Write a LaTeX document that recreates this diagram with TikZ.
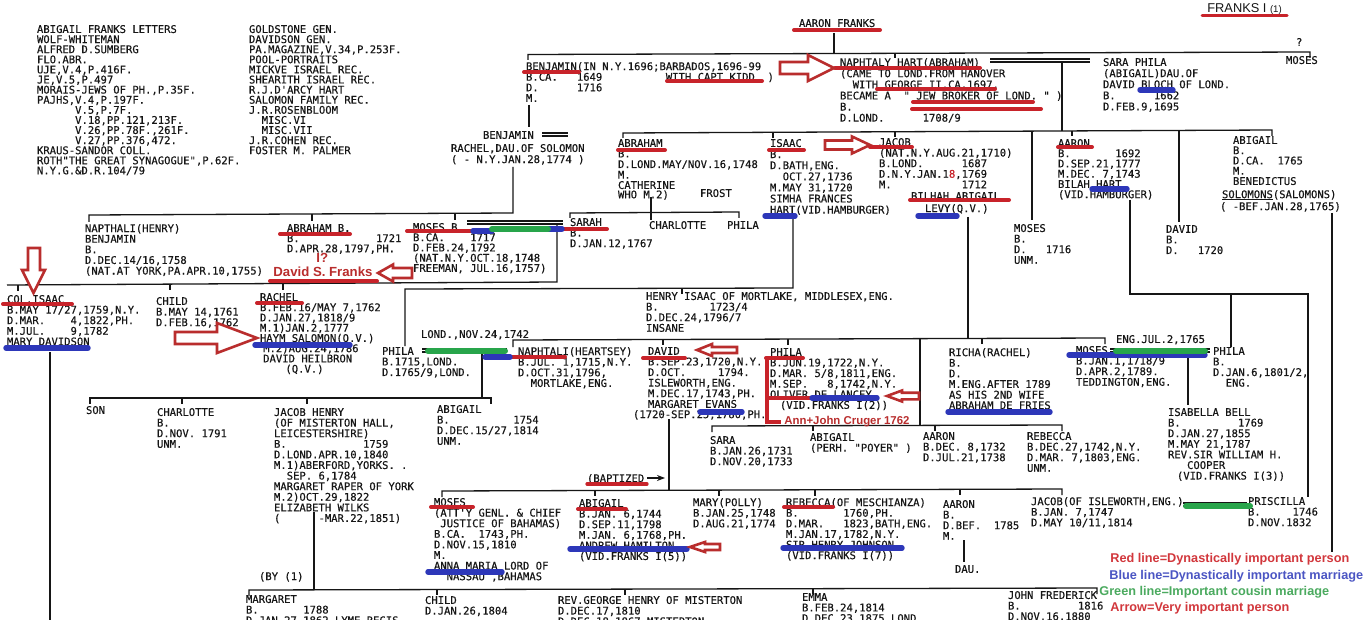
\documentclass[tikz,border=0pt]{standalone}
\usepackage{fontspec}
\setmainfont{Liberation Sans}
\setmonofont[FakeBold=0.4]{DejaVu Sans Mono}
\usetikzlibrary{arrows.meta}
\frenchspacing
\definecolor{ink}{RGB}{22,22,22}
\definecolor{ured}{RGB}{200,35,42}
\definecolor{ublue}{RGB}{45,55,185}
\definecolor{ugreen}{RGB}{40,165,75}
\definecolor{ared}{RGB}{185,45,45}
\definecolor{lred}{RGB}{210,55,60}
\definecolor{lblue}{RGB}{75,85,195}
\definecolor{lgreen}{RGB}{75,170,95}
\tikzset{
  tw/.style={anchor=north west,inner sep=0pt,outer sep=0pt,align=left,text=ink,yshift=1.95pt,font=\ttfamily\fontsize{5.28pt}{5.3pt}\selectfont},
  tws/.style={tw,font=\ttfamily\fontsize{5.28pt}{5.12pt}\selectfont},
  twl/.style={tw,font=\ttfamily\fontsize{5.28pt}{5.55pt}\selectfont},
  twr/.style={tw,font=\ttfamily\fontsize{5.28pt}{5.05pt}\selectfont},
  twc/.style={tw,font=\ttfamily\fontsize{5.28pt}{4.7pt}\selectfont},
  tl/.style={draw=ink,line width=0.65pt},
  ulr/.style={draw=ured,line width=2pt,line cap=round},
  ulb/.style={draw=ublue,line width=2.7pt,line cap=round},
  ulg/.style={draw=ugreen,line width=3pt,line cap=round},
  barrow/.style={draw=ared,line width=1.3pt,fill=white,line join=miter},
  rtxt/.style={anchor=west,inner sep=0pt,text=ared,font=\bfseries\fontsize{6.6pt}{7pt}\selectfont},
  lgd/.style={anchor=west,inner sep=0pt,font=\bfseries\fontsize{6.35pt}{7pt}\selectfont},
}
\newcommand\blockarrow[6]{\draw[barrow] ({#1},{#4-#5}) -- ({#2},{#4-#5}) -- ({#2},{#4-#6}) -- ({#3},{#4}) -- ({#2},{#4+#6}) -- ({#2},{#4+#5}) -- ({#1},{#4+#5}) -- cycle;}
\begin{document}
\begin{tikzpicture}[x=0.5pt,y=-0.5pt]
\useasboundingbox (0,0) rectangle (1370,620);
\fill[white] (0,0) rectangle (1370,620);
\clip (0,0) rectangle (1370,620);

% ---------------- tree lines ----------------
\draw[tl] (528,60) -- (528,54.5) -- (1310,52) -- (1310,58);
\draw[tl] (834,33) -- (834,53.5);
\draw[tl] (895,53) -- (895,58);
\draw[tl] (529,105) -- (529,127);
\draw[tl] (542,133) -- (568,133) (542,136) -- (568,136);
\draw[tl] (513,167) -- (513,213) -- (89,215) -- (89,222);
\draw[tl] (312,214) -- (312,221);
\draw[tl] (455,213.5) -- (455,220);
% Naphtaly Hart
\draw[tl] (990,59) -- (1090,59) (990,62) -- (1090,62);
\draw[tl] (1062,62) -- (1062,131);
\draw[tl] (623,138) -- (623,133) -- (1272,130) -- (1272,136);
\draw[tl] (773,132.3) -- (773,138);
\draw[tl] (895,131.7) -- (895,137);
\draw[tl] (1072,130.9) -- (1072,136);
\draw[tl] (1032,131.1) -- (1032,220);
\draw[tl] (1179,130.4) -- (1179,222);
% Abraham
\draw[tl] (651,197) -- (651,220);
\draw[tl] (570,218) -- (570,213) -- (739,212) -- (739,218);
% Isaac
\draw[tl] (793,216) -- (793,288) -- (405,289) -- (405,346);
\draw[tl] (682,288) -- (682,294);
% Moses B.
\draw[tl] (467,221) -- (563,221) (467,224) -- (563,224);
\draw[tl] (557,224) -- (557,282) -- (7,285);
\draw[tl] (18,285) -- (18,291);
\draw[tl] (170,284) -- (170,290);
\draw[tl] (283,283.5) -- (283,290);
\draw[tl] (50,352) -- (50,620);
% Phila - Naphtali
\draw[tl] (422,349) -- (507,349) (422,352) -- (507,352);
\draw[tl] (482,353) -- (482,398);
\draw[tl] (90,404) -- (90,398) -- (491,398) -- (491,404);
\draw[tl] (182,398) -- (182,404);
\draw[tl] (307,398) -- (307,404);
% Jacob
\draw[tl] (968,217) -- (968,338);
\draw[tl] (513,347) -- (513,340) -- (1105,338) -- (1105,344);
\draw[tl] (663,339.5) -- (663,345);
\draw[tl] (788,339) -- (788,345);
\draw[tl] (982,338) -- (982,344);
\draw[tl] (920,338.5) -- (920,426);
\draw[tl] (712,432) -- (712,426) -- (1062,425) -- (1062,431);
\draw[tl] (813,426) -- (813,431);
\draw[tl] (935,425.5) -- (935,431);
% David
\draw[tl] (669,419) -- (669,490);
\draw[tl] (442,497) -- (442,491) -- (1062,489) -- (1062,495);
\draw[tl] (595,490.5) -- (595,496);
\draw[tl] (719,490) -- (719,496);
\draw[tl] (815,490) -- (815,496);
\draw[tl] (960,489.3) -- (960,495);
\draw[tl] (964,540) -- (964,562);
% Jacob Henry
\draw[tl] (314,512) -- (314,589);
\draw[tl] (249,596) -- (249,590) -- (1097,588) -- (1097,594);
\draw[tl] (437,589.5) -- (437,595);
\draw[tl] (625,589) -- (625,595);
\draw[tl] (813,588.5) -- (813,594);
% Aaron 1692
\draw[tl] (1130,200) -- (1130,294) -- (1308,294) -- (1308,497);
\draw[tl] (1231,294) -- (1231,347);
\draw[tl] (1332,213) -- (1332,552);
\draw[tl] (1110,349) -- (1210,349) (1110,352) -- (1210,352);
\draw[tl] (1188,357) -- (1188,405);
\draw[tl] (1183,503) -- (1247,503) (1183,506) -- (1247,506);
\draw[tl] (1222,199.5) -- (1273,199.5);
\draw[tl,-{Stealth[length=4pt,width=3pt]}] (647,478) -- (665,478);

% ---------------- references ----------------
\node[twr] (refa) at (37,29) {ABIGAIL FRANKS LETTERS\\WOLF-WHITEMAN\\ALFRED D.SUMBERG\\FLO.ABR.\\UJE,V.4,P.416F.\\JE,V.5,P.497\\MORAIS-JEWS OF PH.,P.35F.\\PAJHS,V.4,P.197F.\\~~~~~~V.5,P.7F.\\~~~~~~V.18,PP.121,213F.\\~~~~~~V.26,PP.78F.,261F.\\~~~~~~V.27,PP.376,472.\\KRAUS-SANDOR COLL.\\ROTH"THE GREAT SYNAGOGUE",P.62F.\\N.Y.G.\&D.R.104/79};
\node[twr] (refb) at (249,29) {GOLDSTONE GEN.\\DAVIDSON GEN.\\PA.MAGAZINE,V.34,P.253F.\\POOL-PORTRAITS\\MICKVE ISRAEL REC.\\SHEARITH ISRAEL REC.\\R.J.D'ARCY HART\\SALOMON FAMILY REC.\\J.R.ROSENBLOOM\\~~MISC.VI\\~~MISC.VII\\J.R.COHEN REC.\\FOSTER M.~PALMER};

% ---------------- generation 1 ----------------
\node[anchor=west,inner sep=0pt,text=ink,font=\fontsize{6.4pt}{7pt}\selectfont] (title) at (1207,9) {FRANKS I {\fontsize{4.8pt}{5pt}\selectfont(1)}};
\node[tw] (aaronf) at (799,23) {AARON FRANKS};
\node[tw] (qm) at (1296,42) {?};
\node[tw] (mosestop) at (1286,60) {MOSES};
\node[tw] (benj) at (526,66) {BENJAMIN(IN N.Y.1696;BARBADOS,1696-99\\B.CA.~~~1649~~~~~~~~~~WITH CAPT.KIDD.~)\\D.~~~~~~1716\\M.};
\node[twl] (naph) at (840,62) {NAPHTALY HART(ABRAHAM)\\(CAME TO LOND.FROM HANOVER\\~~WITH GEORGE II,CA.1697,\\BECAME A~~"~JEW BROKER OF LOND.~"~)\\B.\\D.LOND.~~~~~~1708/9};
\node[twl] (sara) at (1103,62) {SARA PHILA\\(ABIGAIL)DAU.OF\\DAVID BLOCH OF LOND.\\B.~~~~~~1662\\D.FEB.9,1695};
\node[tw] (benj2) at (483,135) {BENJAMIN};
\node[twl] (rachs) at (451,148) {RACHEL,DAU.OF SOLOMON\\(~-~N.Y.JAN.28,1774~)};

% ---------------- generation 2 ----------------
\node[tw] (abr) at (618,143) {ABRAHAM\\B.\\D.LOND.MAY/NOV.16,1748\\M.};
\node[twc] (cath) at (618,185) {CATHERINE\\WHO M.2)};
\node[tw] (frost) at (700,193) {FROST};
\node[twl] (isaac) at (770,143) {ISAAC\\B.\\D.BATH,ENG.\\~~OCT.27,1736\\M.MAY 31,1720\\SIMHA FRANCES\\HART(VID.HAMBURGER)};
\node[tw] (jacob) at (879,142) {JACOB\\(NAT.N.Y.AUG.21,1710)\\B.LOND.~~~~~~1687\\D.N.Y.JAN.1\textcolor{ured}{8},1769\\M.~~~~~~~~~~~1712};
\node[tw] (bilhah) at (911,196) {BILHAH ABIGAIL};
\node[tw] (levy) at (925,208) {LEVY(Q.V.)};
\node[tws] (aaron) at (1058,143) {AARON\\B.~~~~~~~1692\\D.SEP.21,1777\\M.DEC.~7,1743\\BILAH HART\\(VID.HAMBURGER)};
\node[tws] (abig) at (1233,140) {ABIGAIL\\B.\\D.CA.~~1765\\M.\\BENEDICTUS};
\node[tw] (solo) at (1222,194) {SOLOMONS(SALOMONS)};
\node[tw] (bef) at (1220,206) {(~-BEF.JAN.28,1765)};
\node[tw] (moses1) at (1014,228) {MOSES\\B.\\D.~~~1716\\UNM.};
\node[tw] (david1) at (1166,229) {DAVID\\B.\\D.~~~1720};
\node[tw] (napth) at (85,228) {NAPTHALI(HENRY)\\BENJAMIN\\B.\\D.DEC.14/16,1758\\(NAT.AT YORK,PA.APR.10,1755)};
\node[tws] (abrb) at (287,228) {ABRAHAM B.\\B.~~~~~~~~~~~~1721\\D.APR.28,1797,PH.};
\node[rtxt] (iq) at (316,258) {I?};
\node[rtxt] (dsf) at (273,272) {David S. Franks};
\node[tws] (mosesb) at (413,227) {MOSES B.\\B.CA.~~~~1717\\D.FEB.24,1792\\(NAT.N.Y.OCT.18,1748\\FREEMAN, JUL.16,1757)};
\node[tw] (sarah) at (570,222) {SARAH\\B.\\D.JAN.12,1767};
\node[tw] (charl1) at (649,225) {CHARLOTTE};
\node[tw] (phila0) at (727,225) {PHILA};

% ---------------- generation 3 ----------------
\node[tw] (colisaac) at (7,299) {COL.ISAAC\\B.MAY 17/27,1759,N.Y.\\D.MAR.~~~~4,1822,PH.\\M.JUL.~~~~9,1782\\MARY DAVIDSON};
\node[tw] (child1) at (156,301) {CHILD\\B.MAY 14,1761\\D.FEB.16,1762};
\node[tws] (rachel) at (260,297) {RACHEL\\B.FEB.16/MAY 7,1762\\D.JAN.27,1818/9\\M.1)JAN.2,1777\\HAYM SALOMON(Q.V.)\\\kern1.6pt M.2)AUG.24,1786\\\kern1.6pt DAVID HEILBRON\\~~~~(Q.V.)};
\node[tw] (henry) at (646,296) {HENRY ISAAC OF MORTLAKE, MIDDLESEX,ENG.\\B.~~~~~~~~1723/4\\D.DEC.24,1796/7\\INSANE};
\node[tw] (lond) at (421,334) {LOND.,NOV.24,1742};
\node[tw] (phila1) at (382,351) {PHILA\\B.1715,LOND.\\D.1765/9,LOND.};
\node[tw] (naphh) at (518,351) {NAPHTALI(HEARTSEY)\\B.JUL.~1,1715,N.Y.\\D.OCT.31,1796,\\~~MORTLAKE,ENG.};
\node[tw] (david) at (648,351) {DAVID\\B.SEP.23,1720,N.Y.\\D.OCT.~~~~~1794.\\ISLEWORTH,ENG.\\M.DEC.17,1743,PH.\\MARGARET EVANS};
\node[tw] (evans) at (633,414) {(1720-SEP.25,1780,PH.};
\node[tw] (phila2) at (770,352) {PHILA\\B.JUN.19,1722,N.Y.\\D.MAR.~5/8,1811,ENG.\\M.SEP.~~~8,1742,N.Y.\\OLIVER DE LANCEY\\~\kern1.8pt(VID.FRANKS I(2))};
\node[rtxt,font=\bfseries\fontsize{5.7pt}{6pt}\selectfont] (cruger) at (784,422) {Ann+John Cruger 1762};
\node[tw] (richa) at (949,352) {RICHA(RACHEL)\\B.\\D.\\M.ENG.AFTER 1789\\AS HIS 2ND WIFE\\ABRAHAM DE FRIES};
\node[tw] (engjul) at (1116,339) {ENG.JUL.2,1765};
\node[tw] (moses2) at (1076,350) {MOSES\\B.JAN.1,1718/9\\D.APR.2,1789.\\TEDDINGTON,ENG.};
\node[tw] (phila3) at (1213,351) {PHILA\\B.\\D.JAN.6,1801/2,\\~~ENG.};

% ---------------- generation 4 ----------------
\node[tw] (son) at (86,410) {SON};
\node[tw] (charl2) at (157,412) {CHARLOTTE\\B.\\D.NOV.~1791\\UNM.};
\node[tw] (jhenry) at (274,412) {JACOB HENRY\\(OF MISTERTON HALL,\\LEICESTERSHIRE)\\B.~~~~~~~~~~~~1759\\D.LOND.APR.10,1840\\M.1)ABERFORD,YORKS.~.\\~~SEP.~6,1784\\MARGARET RAPER OF YORK\\M.2)OCT.29,1822\\ELIZABETH WILKS\\(~~~~~~-MAR.22,1851)};
\node[tw] (abig2) at (437,409) {ABIGAIL\\B.~~~~~~~~~~1754\\D.DEC.15/27,1814\\UNM.};
\node[tw] (sara2) at (710,440) {SARA\\B.JAN.26,1731\\D.NOV.20,1733};
\node[tw] (abig3) at (810,437) {ABIGAIL\\(PERH.~"POYER"~)};
\node[tw] (aaron2) at (923,436) {AARON\\B.DEC.~8,1732\\D.JUL.21,1738};
\node[tw] (rebec1) at (1027,436) {REBECCA\\B.DEC.27,1742,N.Y.\\D.MAR.~7,1803,ENG.\\UNM.};
\node[tw] (isab) at (1168,412) {ISABELLA BELL\\B.~~~~~~~~~1769\\D.JAN.27,1855\\M.MAY 21,1787\\REV.SIR WILLIAM H.\\~~~COOPER\\~\kern1.3pt(VID.FRANKS I(3))};
\node[tw] (bapt) at (587,478) {(BAPTIZED};
\node[tw] (moses3) at (434,502) {MOSES\\(ATT'Y GENL. \& CHIEF\\~JUSTICE OF BAHAMAS)\\B.CA.~~1743,PH.\\D.NOV.15,1810\\M.\\ANNA MARIA LORD OF\\~~NASSAU ,BAHAMAS};
\node[tw] (abig4) at (579,503) {ABIGAIL\\B.JAN.~6,1744\\D.SEP.11,1798\\M.JAN.~6,1768,PH.\\ANDREW HAMILTON\\(VID.FRANKS I(5))};
\node[tw] (mary) at (693,502) {MARY(POLLY)\\B.JAN.25,1748\\D.AUG.21,1774};
\node[tw] (rebec2) at (786,502) {REBECCA(OF MESCHIANZA)\\B.~~~~~~~1760,PH.\\D.MAR.~~~1823,BATH,ENG.\\M.JAN.17,1782,N.Y.\\SIR HENRY JOHNSON\\(VID.FRANKS I(7))};
\node[tw] (aaron3) at (943,504) {AARON\\B.\\D.BEF.~~1785\\M.};
\node[tw] (dau) at (955,569) {DAU.};
\node[tw] (jacob2) at (1031,501) {JACOB(OF ISLEWORTH,ENG.)\\B.JAN.~7,1747\\D.MAY 10/11,1814};
\node[tw] (prisc) at (1248,501) {PRISCILLA\\B.~~~~~1746\\D.NOV.1832};
\node[tw] (by1) at (259,576) {(BY (1)};

% ---------------- generation 5 ----------------
\node[tw] (marg) at (246,599) {MARGARET\\B.~~~~~~~1788\\D.JAN.27,1862,LYME REGIS};
\node[tw] (child2) at (425,600) {CHILD\\D.JAN.26,1804};
\node[tw] (george) at (558,600) {REV.GEORGE HENRY OF MISTERTON\\D.DEC.17,1810\\D.DEC.18,1867,MISTERTON};
\node[tw] (emma) at (802,597) {EMMA\\B.FEB.24,1814\\D.DEC.23,1875,LOND.};
\node[tw] (johnf) at (1008,595) {JOHN FREDERICK\\B.~~~~~~~~~1816\\D.NOV.16,1880};

% ---------------- legend ----------------
\node[lgd,text=lred] (lg1) at (1110,559) {Red line=Dynastically important person};
\node[lgd,text=lblue] (lg2) at (1109,576) {Blue line=Dynastically important marriage};
\node[lgd,text=lgreen] (lg3) at (1099,592) {Green line=Important cousin marriage};
\node[lgd,text=lred] (lg4) at (1110,608) {Arrow=Very important person};

% ---------------- underlines: red ----------------
\draw[ulr] (794,30) -- (880,30);
\draw[ulr,line width=1.5pt] (1202,16) -- (1287,16);
\draw[ulr] (524,72) -- (579,72);
\draw[ulr] (667,81) -- (762,81);
\draw[ulr] (835,68) -- (980,68);
\draw[ulr] (877,89) -- (995,89);
\draw[ulr] (913,102) -- (1033,102);
\draw[ulr] (912,109) -- (1041,109);
\draw[ulr] (618,150) -- (665,150);
\draw[ulr] (769,150) -- (804,150);
\draw[ulr] (870,147) -- (912,147);
\draw[ulr] (910,200) -- (1009,200);
\draw[ulr] (1058,147) -- (1092,147);
\draw[ulr] (280,234) -- (350,234);
\draw[ulr] (270,281) -- (377,281);
\draw[ulr] (3,304) -- (72,304);
\draw[ulr] (257,303) -- (302,303);
\draw[ulr] (407,231) -- (473,231);
\draw[ulr] (562,229) -- (607,229);
\draw[ulr] (510,357) -- (565,357);
\draw[ulr] (643,358) -- (685,358);
\draw[ulr] (766,358) -- (803,358);
\draw[ulr] (767,398) -- (813,398);
\draw[ulr] (431,507) -- (473,507);
\draw[ulr] (578,509) -- (626,509);
\draw[ulr] (784,507) -- (833,507);
\draw[ulr,line width=1.6pt] (587,484) -- (647,484);
\draw[draw=ured,line width=2pt] (767,358) -- (767,422) -- (781,422);
% ---------------- underlines: blue ----------------
\draw[ulb] (1140,90) -- (1173,90);
\draw[ulb] (1092,189) -- (1127,189);
\draw[ulb] (765,216) -- (795,216);
\draw[ulb] (918,216) -- (957,216);
\draw[ulb] (6,348) -- (88,348);
\draw[ulb] (255,345) -- (350,345);
\draw[ulb] (473,231) -- (492,231);
\draw[ulb] (548,229) -- (562,229);
\draw[ulb] (485,357) -- (510,357);
\draw[ulb] (700,412) -- (742,412);
\draw[ulb] (812,398) -- (877,398);
\draw[ulb] (948,412) -- (1050,412);
\draw[ulb] (1069,355) -- (1205,355);
\draw[ulb] (428,572) -- (502,572);
\draw[ulb] (570,549) -- (687,549);
\draw[ulb] (783,548) -- (902,548);
% ---------------- underlines: green ----------------
\draw[ulg] (492,229) -- (548,229);
\draw[ulg] (428,351) -- (505,351);
\draw[ulg] (1116,351) -- (1205,351);
\draw[ulg] (1186,506) -- (1250,506);

% ---------------- arrows ----------------
\blockarrow{780}{808}{834}{68}{6}{13}
\blockarrow{825}{852}{870}{145}{4.5}{8.5}
\blockarrow{175}{217}{257}{338}{6}{15}
\blockarrow{412}{393}{378}{273}{5}{8.5}
\blockarrow{737}{712}{697}{350}{3}{6}
\blockarrow{919}{902}{887}{396}{3.3}{5.5}
\blockarrow{720}{705}{690}{547}{3}{5}
\draw[barrow] (28,248) -- (40,248) -- (40,270) -- (45,270) -- (33.5,293) -- (22,270) -- (28,270) -- cycle;
\end{tikzpicture}
\end{document}
